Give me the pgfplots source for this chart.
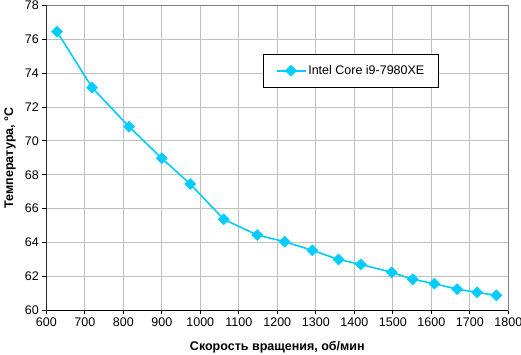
\documentclass[border=0pt]{standalone}
\usepackage{fontspec}
\setmainfont{Liberation Sans}
\usepackage{pgfplots}
\pgfplotsset{compat=1.18}
\definecolor{cpu}{RGB}{0,204,255}
\definecolor{gridc}{RGB}{192,192,192}
\begin{document}
\begin{tikzpicture}
\useasboundingbox (-46.3pt,-44.7pt) rectangle (474.7pt,310.3pt);
\begin{axis}[
  scale only axis,
  width=462pt, height=305pt,
  xmin=600, xmax=1800, ymin=60, ymax=78,
  xtick={600,700,...,1800}, ytick={60,62,...,78},
  grid=major,
  major grid style={draw=gridc, line width=0.8pt},
  axis line style={draw=gray, line width=0.8pt},
  tick align=outside, tick pos=left,
  major tick length=4pt,
  tick style={draw=black, line width=0.8pt},
  /pgf/number format/assume math mode=true,
  /pgf/number format/1000 sep={},
  ticklabel style={font=\fontsize{12.5}{14}\selectfont},
  label style={font=\bfseries\fontsize{12.5}{14}\selectfont},
  xlabel={Скорость вращения, об/мин},
  ylabel={Температура, °C},
  xlabel style={at={(axis description cs:0.5,-0.1194)}, anchor=center},
  ylabel style={at={(axis description cs:-0.0786,0.5)}, anchor=center, rotate=0},
  legend style={at={(0.4697,0.840)}, anchor=north west, draw=black, line width=0.8pt,
    font=\fontsize{12.5}{14}\selectfont, inner xsep=12pt, inner ysep=9pt},
  legend image code/.code={\draw[#1, mark repeat=2, mark phase=2] plot coordinates {(0pt,0pt) (14.5pt,0pt) (29pt,0pt)};},
]
\addplot[color=cpu, line width=1.6pt, mark=square*, mark size=3.9pt,
  mark options={rotate=45, fill=cpu, draw=cpu, line width=0.5pt}]
  coordinates {
  (628,76.44) (719,73.14) (815,70.83) (900,68.97) (974,67.45) (1061,65.37)
  (1148,64.44) (1219,64.05) (1291,63.54) (1359,63.00) (1417,62.71) (1497,62.24)
  (1552,61.83) (1608,61.57) (1667,61.25) (1719,61.06) (1769,60.88)
  };
\addlegendentry{Intel Core i9-7980XE}
\draw[black, line width=0.8pt] (rel axis cs:0,1) -- (rel axis cs:0,0) -- (rel axis cs:1,0);
\end{axis}
\end{tikzpicture}
\end{document}
